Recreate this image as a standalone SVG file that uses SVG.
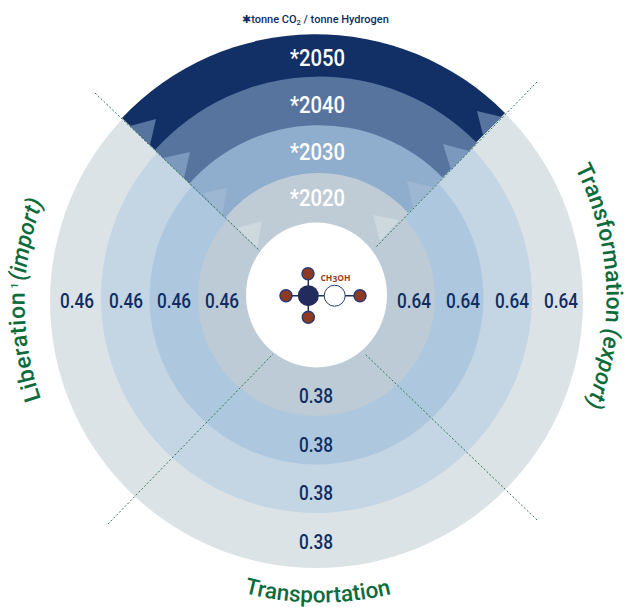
<svg xmlns="http://www.w3.org/2000/svg" width="630" height="607" viewBox="0 0 630 607">
<style>
.v{font-family:"Roboto","Liberation Sans",sans-serif;font-size:20px;font-weight:500;fill:#0f2d63;text-anchor:middle}
.y{font-family:"Roboto","Liberation Sans",sans-serif;font-size:23.500px;font-weight:500;fill:#fff;text-anchor:middle}
.c{font-family:"Roboto","Liberation Sans",sans-serif;font-size:23px;font-weight:500;fill:#0d6b3c}
.g{stroke:#2f7a4f;stroke-width:1;stroke-dasharray:2 2;fill:none}
.a{stroke:#212c5d;stroke-width:1.500}
.r{fill:#8e3a22;stroke:#2a3a70;stroke-width:1.500}
</style>
<defs>
<path id="pt" d="M 575 168 A 289 289 0 0 1 580 420"/>
<path id="pl" d="M 41 399 A 289 289 0 0 1 52 180"/>
<path id="pb" d="M 244 593 A 305 305 0 0 0 395 593"/>
</defs>
<g id="rings">
<circle cx="316.500" cy="301.500" r="266.500" fill="#dce3e7"/>
<circle cx="316.500" cy="297.500" r="215.500" fill="#c4d5e4"/>
<circle cx="316.500" cy="297.500" r="167" fill="#adc8de"/>
<circle cx="316.500" cy="297.500" r="118.500" fill="#bccbd5"/>
</g>
<g id="sector-top">
<path d="M122 118A266.500 266.500 0 0 1 505 113L316 305Z" fill="#123066"/>
<path d="M155 150A220.500 220.500 0 0 1 477 143L316 305Z" fill="#57749e"/>
<path d="M189 184A172.500 172.500 0 0 1 443 178L316 305Z" fill="#8fadcc"/>
<path d="M225 218A120 120 0 0 1 409 214L316 305Z" fill="#bfccd6"/>
<path d="M130 126L156 119L150 145Z" fill="#57749e"/>
<path d="M163 158L190 152L184 178Z" fill="#7b99bd"/>
<path d="M203 193L227 188L222 217Z" fill="#9db6d2"/>
<path d="M237 228L262 221L257 248Z" fill="#cdd9df"/>
<path d="M477 111L502 117L483 135Z" fill="#57749e"/>
<path d="M443 144L469 151L451 170Z" fill="#7b99bd"/>
<path d="M407 181L433 187L413 208Z" fill="#9db6d2"/>
<path d="M373 215L399 220L380 241Z" fill="#cdd9df"/>
</g>
<g id="center">
<ellipse cx="316.500" cy="295" rx="70.500" ry="72.500" fill="#fff"/>
<g class="a">
<line x1="308.300" y1="274" x2="308.300" y2="317"/>
<line x1="286" y1="295.700" x2="360" y2="295.700"/>
</g>
<circle cx="308.300" cy="295.700" r="10.500" fill="#212c5d"/>
<circle cx="334.700" cy="295.700" r="10.500" fill="#fff" stroke="#2a3a70" stroke-width="1"/>
<circle class="r" cx="308" cy="273.700" r="6"/>
<circle class="r" cx="308.300" cy="317.300" r="6"/>
<circle class="r" cx="286" cy="295.700" r="6"/>
<circle class="r" cx="360" cy="295.700" r="6"/>
<text x="335.500" y="280.700" font-family="'Open Sans',sans-serif" font-size="8.500" font-weight="700" fill="#9a3f26" text-anchor="middle">CH<tspan dy="1">3</tspan><tspan dy="-1">OH</tspan></text>
</g>
<g id="connectors">
<path class="g" d="M95 93L259 250"/>
<path class="g" d="M537 82L376 247"/>
<path class="g" d="M108 524L273 354"/>
<path class="g" d="M537 520L365 354"/>
</g>
<g id="labels">
<text x="315.500" y="23" font-family="Roboto,sans-serif" font-size="11" font-weight="500" fill="#0f2d63" text-anchor="middle">✱tonne CO<tspan font-size="7.500" dy="2">2</tspan><tspan dy="-2"> / tonne Hydrogen</tspan></text>
<text class="y" x="317.500" y="66" textLength="55" lengthAdjust="spacingAndGlyphs">*2050</text>
<text class="y" x="317.500" y="113" textLength="55" lengthAdjust="spacingAndGlyphs">*2040</text>
<text class="y" x="317.500" y="160" textLength="55" lengthAdjust="spacingAndGlyphs">*2030</text>
<text class="y" x="317.500" y="206" textLength="55" lengthAdjust="spacingAndGlyphs">*2020</text>
<text class="v" x="77" y="307.500" textLength="34" lengthAdjust="spacingAndGlyphs">0.46</text>
<text class="v" x="126" y="307.500" textLength="34" lengthAdjust="spacingAndGlyphs">0.46</text>
<text class="v" x="174" y="307.500" textLength="34" lengthAdjust="spacingAndGlyphs">0.46</text>
<text class="v" x="222" y="307.500" textLength="34" lengthAdjust="spacingAndGlyphs">0.46</text>
<text class="v" x="414" y="307.500" textLength="34" lengthAdjust="spacingAndGlyphs">0.64</text>
<text class="v" x="463" y="307.500" textLength="34" lengthAdjust="spacingAndGlyphs">0.64</text>
<text class="v" x="512" y="307.500" textLength="34" lengthAdjust="spacingAndGlyphs">0.64</text>
<text class="v" x="561" y="307.500" textLength="34" lengthAdjust="spacingAndGlyphs">0.64</text>
<text class="v" x="316" y="402.500" textLength="34" lengthAdjust="spacingAndGlyphs">0.38</text>
<text class="v" x="316" y="451.500" textLength="34" lengthAdjust="spacingAndGlyphs">0.38</text>
<text class="v" x="316" y="500" textLength="34" lengthAdjust="spacingAndGlyphs">0.38</text>
<text class="v" x="316" y="548.500" textLength="34" lengthAdjust="spacingAndGlyphs">0.38</text>
<text class="c"><textPath href="#pt">Transformation <tspan font-style="italic">(export)</tspan></textPath></text>
<text class="c"><textPath href="#pl"><tspan letter-spacing="0.600">Liberation</tspan><tspan font-size="10" dy="-7"> 1  </tspan><tspan dy="7" font-style="italic">(import)</tspan></textPath></text>
<text class="c" font-size="22.500" style="font-size:22.500px"><textPath href="#pb">Transportation</textPath></text>
</g>
</svg>
